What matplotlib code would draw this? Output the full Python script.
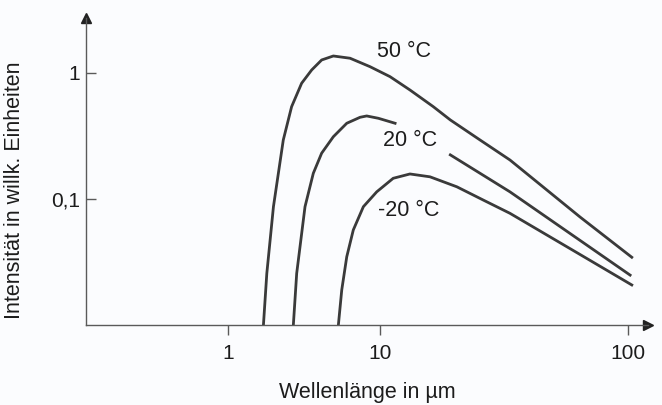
import numpy as np
import matplotlib
matplotlib.use("Agg")
import matplotlib.pyplot as plt
from matplotlib.ticker import FixedLocator, FixedFormatter, NullLocator

# values (wavelength in um, intensity in arbitrary units)
wl_50 = [1.71, 1.80, 1.99, 2.31, 2.62, 3.05, 3.55, 4.13, 4.93, 6.35, 8.59,
         10.97, 13.2, 16.4, 19.2, 25.3, 33.4, 64.0, 103.5]
int_50 = [0.010, 0.0257, 0.0869, 0.294, 0.540, 0.829, 1.056, 1.268, 1.364,
          1.309, 1.122, 0.935, 0.733, 0.540, 0.424, 0.294, 0.204, 0.0720, 0.0345]

# 20 degC curve is interrupted where its label sits
wl_20a = [2.69, 2.83, 3.21, 3.64, 4.13, 4.93, 6.04, 7.39, 8.17, 9.75, 11.5]
int_20a = [0.010, 0.0257, 0.0869, 0.160, 0.231, 0.312, 0.399, 0.445, 0.456,
           0.437, 0.399]
wl_20b = [19.2, 25.3, 33.4, 101.9]
int_20b = [0.224, 0.160, 0.114, 0.0249]

wl_m20 = [5.32, 5.60, 6.04, 6.67, 7.77, 9.51, 11.3, 13.2, 15.9, 20.4, 26.1,
          33.4, 64.0, 103.5]
int_m20 = [0.010, 0.0190, 0.0348, 0.0568, 0.0869, 0.114, 0.146, 0.158, 0.150,
           0.125, 0.098, 0.077, 0.0363, 0.0208]

curve_labels = ["50 °C", "20 °C", "-20 °C"]
label_pos = [(12.5, 1.47), (13.2, 0.289), (13.0, 0.0818)]

xticks = [1, 10, 100]
xtick_labels = ["1", "10", "100"]
yticks = [0.1, 1]
ytick_labels = ["0,1", "1"]

# the drawn x axis has a wider second decade than the first
K = 248 / 152


def fwd(x):
    u = np.log10(np.clip(x, 1e-300, None))
    return np.where(u <= 1, u, 1 + (u - 1) * K)


def inv(s):
    u = np.where(s <= 1, s, 1 + (s - 1) / K)
    return 10 ** u


plt.rcParams['font.family'] = ['Liberation Sans', 'DejaVu Sans']
bg = '#fbfcfe'
axis_col = '#5a5a5a'
line_col = '#3a3a3a'
txt_col = '#1c1c1c'

fig = plt.figure(figsize=(6.62, 4.05), dpi=100, facecolor=bg)
ax = fig.add_axes([86 / 662, 1 - 324.5 / 405, 562 / 662, 306.5 / 405])
ax.set_facecolor(bg)

ax.plot(wl_50, int_50, color=line_col, lw=2.0)
ax.plot(wl_20a, int_20a, color=line_col, lw=2.0)
ax.plot(wl_20b, int_20b, color=line_col, lw=2.0)
ax.plot(wl_m20, int_m20, color=line_col, lw=2.0)

for lab, (lx, ly) in zip(curve_labels, label_pos):
    ax.text(lx, ly, lab, fontsize=15.5, color=txt_col, ha='center', va='center')

ax.set_xscale('function', functions=(fwd, inv))
ax.set_yscale('log')
ax.set_xlim(0.1164, 120.3)
ax.set_ylim(0.0101, 2.73)

ax.xaxis.set_major_locator(FixedLocator(xticks))
ax.xaxis.set_major_formatter(FixedFormatter(xtick_labels))
ax.xaxis.set_minor_locator(NullLocator())
ax.yaxis.set_major_locator(FixedLocator(yticks))
ax.yaxis.set_major_formatter(FixedFormatter(ytick_labels))
ax.yaxis.set_minor_locator(NullLocator())

for side in ['top', 'right']:
    ax.spines[side].set_visible(False)
for side in ['left', 'bottom']:
    ax.spines[side].set_color(axis_col)
    ax.spines[side].set_linewidth(1.0)

ax.tick_params(axis='x', direction='out', length=7, width=1.0, color=axis_col,
               labelsize=15, labelcolor=txt_col, pad=7)
ax.tick_params(axis='y', direction='in', length=7, width=1.0, color=axis_col,
               labelsize=15, labelcolor=txt_col, pad=4)

# arrow heads at the end of both axes
ax.plot(1, 0, '>', color='#222222', ms=7, transform=ax.transAxes, clip_on=False)
ax.plot(0, 1, '^', color='#222222', ms=7, transform=ax.transAxes, clip_on=False)

ax.set_xlabel('Wellenlänge in µm', fontsize=15.5, color=txt_col, labelpad=14)
ax.set_ylabel('Intensität in willk. Einheiten', fontsize=15.5, color=txt_col)
ax.yaxis.set_label_coords(-0.1085, 0.439)

fig.savefig('out.png', dpi=100, facecolor=bg)
